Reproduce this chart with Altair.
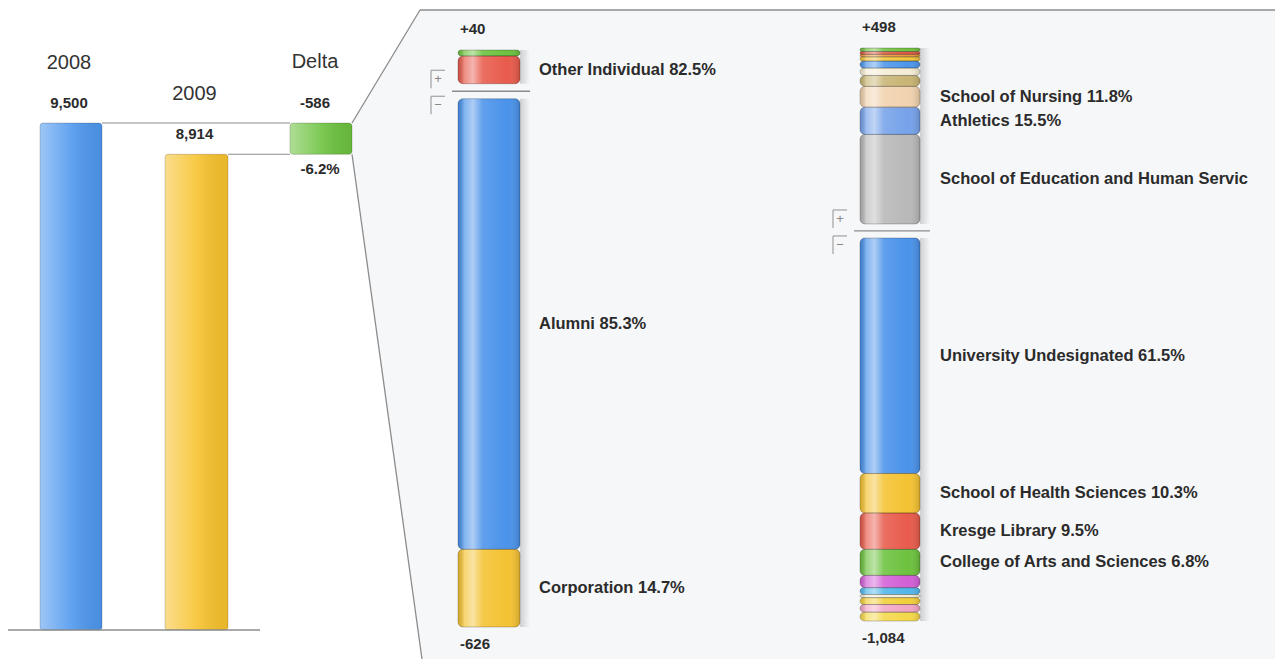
import altair as alt
import pandas as pd

W, H = 1275, 659
FONT = "Liberation Sans"
INK = "#2b2b2b"
LINE = "#8c8c8c"
HEAD_SIZE = 20
VALUE_SIZE = 15
LABEL_SIZE = 16.5

# ---------------- values ----------------
YEARS = ["2008", "2009"]
YEAR_TOTALS = [9500, 8914]
DELTA_PCT_LABEL = "-6.2%"

# change by donor type (gain stacked upward from the base, loss downward)
DONOR_GAIN = 40
DONOR_GAIN_NAMES = ["Other Individual", "Other donor gain"]
DONOR_GAIN_PCT = [82.5, 17.5]
DONOR_LOSS = 626
DONOR_LOSS_NAMES = ["Alumni", "Corporation"]
DONOR_LOSS_PCT = [85.3, 14.7]

# change by designation
DESIG_GAIN = 498
DESIG_GAIN_NAMES = ["School of Education and Human Servic", "Athletics", "School of Nursing",
                    "Gain 4", "Gain 5", "Gain 6", "Gain 7", "Gain 8", "Gain 9", "Gain 10"]
DESIG_GAIN_PCT = [50.9, 15.5, 11.8, 6.2, 4.2, 4.0, 2.4, 1.4, 1.6, 2.0]
DESIG_LOSS = 1084
DESIG_LOSS_NAMES = ["University Undesignated", "School of Health Sciences", "Kresge Library",
                    "College of Arts and Sciences", "Loss 5", "Loss 6", "Loss 7", "Loss 8",
                    "Loss 9", "Loss 10"]
DESIG_LOSS_PCT = [61.5, 10.3, 9.5, 6.8, 3.2, 1.8, 0.8, 1.8, 2.0, 2.3]

LABELED = {"Other Individual", "Alumni", "Corporation", "School of Nursing", "Athletics",
           "School of Education and Human Servic", "University Undesignated",
           "School of Health Sciences", "Kresge Library", "College of Arts and Sciences"}
NAME_ONLY = {"School of Education and Human Servic"}  # label is cut off before the share

# ---------------- styles ----------------
PALETTE = {
    "Other Individual": "#e85b4c", "Other donor gain": "#6cc23e",
    "Alumni": "#4a92ea", "Corporation": "#f4c232",
    "School of Education and Human Servic": "#b8b8b8", "Athletics": "#76a2ea",
    "School of Nursing": "#f1d2ae", "Gain 4": "#c8b574", "Gain 5": "#f4ecd4",
    "Gain 6": "#4e96ea", "Gain 7": "#f3c53b", "Gain 8": "#ef983a", "Gain 9": "#e35a45",
    "Gain 10": "#6fc13f",
    "University Undesignated": "#4a92ea", "School of Health Sciences": "#f4c232",
    "Kresge Library": "#e85b4c", "College of Arts and Sciences": "#6cc23e",
    "Loss 5": "#d25fd6", "Loss 6": "#4fb6ea", "Loss 7": "#f6f0d8", "Loss 8": "#f2cf3a",
    "Loss 9": "#f2a6c6", "Loss 10": "#f4d84a",
}
YEAR_COLORS = ["#4d97ee", "#f7c22c"]
DELTA_COLOR = "#6cc23e"

GLOSS = alt.Gradient(
    gradient="linear", x1=0, x2=1, y1=0, y2=0,
    stops=[
        alt.GradientStop(offset=0.0, color="rgba(0,0,0,0.10)"),
        alt.GradientStop(offset=0.10, color="rgba(255,255,255,0.30)"),
        alt.GradientStop(offset=0.24, color="rgba(255,255,255,0.55)"),
        alt.GradientStop(offset=0.40, color="rgba(255,255,255,0.12)"),
        alt.GradientStop(offset=0.80, color="rgba(255,255,255,0.0)"),
        alt.GradientStop(offset=1.0, color="rgba(0,0,0,0.16)"),
    ],
)
SOFT = alt.Gradient(
    gradient="linear", x1=0, x2=1, y1=0, y2=0,
    stops=[
        alt.GradientStop(offset=0.0, color="rgba(255,255,255,0.45)"),
        alt.GradientStop(offset=0.5, color="rgba(255,255,255,0.12)"),
        alt.GradientStop(offset=1.0, color="rgba(0,0,0,0.06)"),
    ],
)
SHADOW = alt.Gradient(
    gradient="linear", x1=0, x2=1, y1=0, y2=0,
    stops=[
        alt.GradientStop(offset=0.0, color="rgba(0,0,0,0.16)"),
        alt.GradientStop(offset=1.0, color="rgba(0,0,0,0.0)"),
    ],
)

ONE = pd.DataFrame({"k": [0]})
layers = []


def rule(x1, y1, x2, y2, color=LINE, width=1.3):
    return alt.Chart(ONE).mark_rule(color=color, strokeWidth=width).encode(
        x=alt.value(x1), y=alt.value(y1), x2=alt.value(x2), y2=alt.value(y2))


def note(x, y, text, size=13, weight="bold", align="center", color=INK):
    return alt.Chart(ONE).mark_text(
        text=text, font=FONT, fontSize=size, fontWeight=weight, align=align,
        baseline="middle", color=color).encode(x=alt.value(x), y=alt.value(y))


# ---------------- zoom panel backdrop ----------------
L_BASE, L_TOP = 630, 123
def left_px(v):
    return L_BASE - v * (L_BASE - L_TOP) / max(YEAR_TOTALS)

DX1, DX2 = 290, 352
panel = pd.DataFrame({
    "y": [10, left_px(YEAR_TOTALS[0]), left_px(YEAR_TOTALS[1]), H],
    "xl": [420, DX2, DX2, 422],
    "xr": [W, W, W, W],
})
PIX_X = alt.Scale(domain=[0, W], range=[0, W], nice=False, zero=False)
PIX_Y = alt.Scale(domain=[0, H], range=[0, H], nice=False, zero=False)
layers.append(alt.Chart(panel).mark_area(orient="horizontal", color="#f6f7f9").encode(
    y=alt.Y("y:Q", scale=PIX_Y, axis=None),
    x=alt.X("xl:Q", scale=PIX_X, axis=None), x2="xr:Q"))

# ---------------- year bars and delta ----------------
SC_L = alt.Scale(domain=[0, max(YEAR_TOTALS)], range=[L_BASE, L_TOP], nice=False, zero=False)
years = pd.DataFrame({"year": YEARS, "total": YEAR_TOTALS, "zero": 0})
years["label"] = [f"{v:,}" for v in YEAR_TOTALS]
BAR_X = [(40, 102), (165, 228)]

for i, (x1, x2) in enumerate(BAR_X):
    d = years.iloc[[i]]
    enc = dict(x=alt.value(x1), x2=alt.value(x2),
               y=alt.Y("total:Q", scale=SC_L, axis=None), y2="zero:Q")
    layers.append(alt.Chart(d).mark_rect(color=YEAR_COLORS[i], cornerRadius=3).encode(**enc))
    layers.append(alt.Chart(d).mark_rect(fill=SOFT, cornerRadius=3,
                                         stroke="rgba(0,0,0,0.22)", strokeWidth=0.8).encode(**enc))
    cx = (x1 + x2) / 2 - 2
    layers.append(alt.Chart(d).mark_text(font=FONT, fontSize=VALUE_SIZE, fontWeight="bold",
                                         color=INK, baseline="middle", dy=-20).encode(
        x=alt.value(cx), y=alt.Y("total:Q", scale=SC_L, axis=None), text="label:N"))
    layers.append(alt.Chart(d).mark_text(font=FONT, fontSize=HEAD_SIZE, color="#333333",
                                         baseline="middle", dy=-60).encode(
        x=alt.value(cx), y=alt.Y("total:Q", scale=SC_L, axis=None), text="year:N"))

delta = YEAR_TOTALS[1] - YEAR_TOTALS[0]
ddf = pd.DataFrame({"hi": [YEAR_TOTALS[0]], "lo": [YEAR_TOTALS[1]], "label": [f"{delta:,}"]})
denc = dict(x=alt.value(DX1), x2=alt.value(DX2),
            y=alt.Y("hi:Q", scale=SC_L, axis=None), y2="lo:Q")
layers.append(alt.Chart(ddf).mark_rect(color=DELTA_COLOR, cornerRadius=3).encode(**denc))
layers.append(alt.Chart(ddf).mark_rect(fill=SOFT, cornerRadius=3,
                                       stroke="rgba(0,0,0,0.22)", strokeWidth=0.8).encode(**denc))
layers.append(alt.Chart(ddf).mark_text(font=FONT, fontSize=VALUE_SIZE, fontWeight="bold",
                                       color=INK, baseline="middle", dy=-20).encode(
    x=alt.value(315), y=alt.Y("hi:Q", scale=SC_L, axis=None), text="label:N"))
layers.append(alt.Chart(ddf).mark_text(font=FONT, fontSize=HEAD_SIZE, color="#333333",
                                       baseline="middle", dy=-61).encode(
    x=alt.value(315), y=alt.Y("hi:Q", scale=SC_L, axis=None), text=alt.value("Delta")))
layers.append(alt.Chart(ddf).mark_text(font=FONT, fontSize=VALUE_SIZE, fontWeight="bold",
                                       color=INK, baseline="middle", dy=15).encode(
    x=alt.value(320), y=alt.Y("lo:Q", scale=SC_L, axis=None), text=alt.value(DELTA_PCT_LABEL)))

# connectors, baseline and zoom edges
conn = pd.DataFrame({"v": YEAR_TOTALS})
layers.append(alt.Chart(conn.iloc[[0]]).mark_rule(color=LINE, strokeWidth=1.2).encode(
    x=alt.value(BAR_X[0][1]), x2=alt.value(DX1), y=alt.Y("v:Q", scale=SC_L, axis=None)))
layers.append(alt.Chart(conn.iloc[[1]]).mark_rule(color=LINE, strokeWidth=1.2).encode(
    x=alt.value(BAR_X[1][1]), x2=alt.value(DX1), y=alt.Y("v:Q", scale=SC_L, axis=None)))
layers.append(alt.Chart(pd.DataFrame({"v": [0]})).mark_rule(color=LINE, strokeWidth=1.3).encode(
    x=alt.value(8), x2=alt.value(260), y=alt.Y("v:Q", scale=SC_L, axis=None)))
layers.append(rule(DX2, left_px(YEAR_TOTALS[0]), 420, 10))
layers.append(rule(DX2, left_px(YEAR_TOTALS[1]), 422, H))
layers.append(rule(420, 10, W, 10, width=1.5))


# ---------------- detail stacks ----------------
def stack(names, pcts, total):
    rows, acc = [], 0.0
    for n, p in zip(names, pcts):
        v = total * p / 100
        lab = n if n in NAME_ONLY else f"{n} {p:.1f}%"
        rows.append(dict(name=n, pct=p, start=acc, end=acc + v, mid=acc + v / 2,
                         label=lab, shown=n in LABELED))
        acc += v
    return pd.DataFrame(rows)


def detail(gain, gnames, gpcts, loss, lnames, lpcts, x1, x2, top, bottom, gap, label_x):
    k = (bottom - top - gap) / (gain + loss)
    base = top + gain * k
    sc_g = alt.Scale(domain=[0, gain], range=[base, top], nice=False, zero=False)
    sc_l = alt.Scale(domain=[0, loss], range=[base + gap, bottom], nice=False, zero=False)
    out = []
    for total, names, pcts, sc in ((gain, gnames, gpcts, sc_g), (loss, lnames, lpcts, sc_l)):
        df = stack(names, pcts, total)
        tot = pd.DataFrame({"a": [0], "b": [total]})
        out.append(alt.Chart(tot).mark_rect(fill=SHADOW).encode(
            x=alt.value(x2), x2=alt.value(x2 + 10),
            y=alt.Y("a:Q", scale=sc, axis=None), y2="b:Q"))
        enc = dict(x=alt.value(x1), x2=alt.value(x2),
                   y=alt.Y("start:Q", scale=sc, axis=None), y2="end:Q")
        out.append(alt.Chart(df).mark_rect(cornerRadius=5).encode(
            fill=alt.Fill("name:N", legend=None,
                          scale=alt.Scale(domain=names, range=[PALETTE[n] for n in names])),
            **enc))
        out.append(alt.Chart(df).mark_rect(cornerRadius=5, fill=GLOSS,
                                           stroke="rgba(0,0,0,0.28)", strokeWidth=0.8).encode(**enc))
        out.append(alt.Chart(df[df["shown"]]).mark_text(
            font=FONT, fontSize=LABEL_SIZE, fontWeight="bold", color=INK, align="left",
            baseline="middle").encode(
            x=alt.value(label_x), y=alt.Y("mid:Q", scale=sc, axis=None), text="label:N"))
    # totals above and below
    gt = pd.DataFrame({"v": [gain], "t": [f"+{gain:,}"]})
    lt = pd.DataFrame({"v": [loss], "t": [f"-{loss:,}"]})
    out.append(alt.Chart(gt).mark_text(font=FONT, fontSize=VALUE_SIZE, fontWeight="bold",
                                       color=INK, align="left", baseline="middle", dy=-21).encode(
        x=alt.value(x1 + 2), y=alt.Y("v:Q", scale=sc_g, axis=None), text="t:N"))
    out.append(alt.Chart(lt).mark_text(font=FONT, fontSize=VALUE_SIZE, fontWeight="bold",
                                       color=INK, align="left", baseline="middle", dy=17).encode(
        x=alt.value(x1 + 2), y=alt.Y("v:Q", scale=sc_l, axis=None), text="t:N"))
    # separator and expand / collapse brackets
    sep = base + gap / 2
    out.append(rule(x1 - 6, sep, x2 + 10, sep, width=1.3))
    bx = x1 - 27
    for top_y, sym in ((sep - 21, "+"), (sep + 5, "\u2212")):
        out.append(rule(bx, top_y, bx, top_y + 18, color="#9a9a9a", width=1.1))
        out.append(rule(bx, top_y, bx + 14, top_y, color="#9a9a9a", width=1.1))
        out.append(note(bx + 7, top_y + 9, sym, size=13, weight="normal", color="#888888"))
    return out


layers += detail(DONOR_GAIN, DONOR_GAIN_NAMES, DONOR_GAIN_PCT,
                 DONOR_LOSS, DONOR_LOSS_NAMES, DONOR_LOSS_PCT,
                 458, 520, 50, 627, 15, 539)
layers += detail(DESIG_GAIN, DESIG_GAIN_NAMES, DESIG_GAIN_PCT,
                 DESIG_LOSS, DESIG_LOSS_NAMES, DESIG_LOSS_PCT,
                 860, 920, 48, 621, 14, 940)

chart = alt.layer(*layers).properties(
    width=W, height=H, padding=0, background="white",
    autosize=alt.AutoSizeParams(type="none"),
).resolve_scale(
    x="independent", y="independent", fill="independent"
).configure_view(stroke=None)

chart.save("out.html", embed_options={"renderer": "svg", "actions": False})
